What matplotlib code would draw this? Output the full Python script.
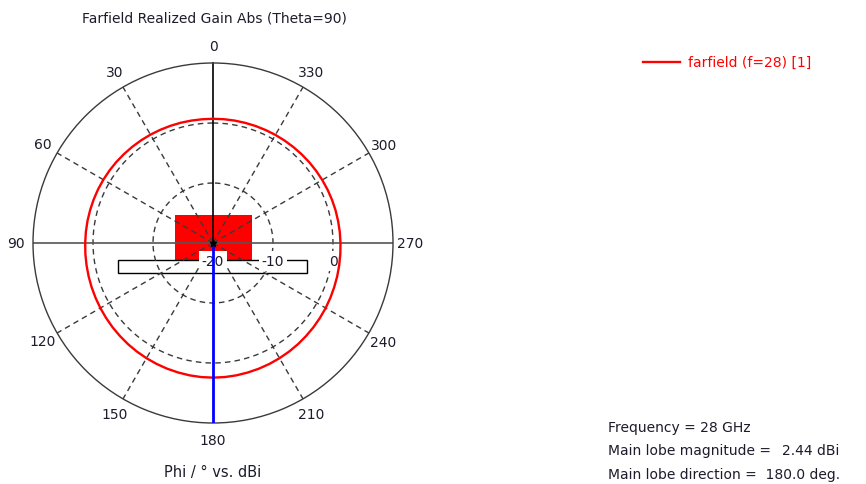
import numpy as np
import matplotlib
matplotlib.use("Agg")
import matplotlib.pyplot as plt
from matplotlib.patches import Rectangle

# Realized gain (dBi) in the Theta=90 cut, sampled every 5 degrees of Phi
phi_deg = list(range(0, 361, 5))
gain_dbi = [0.70, 0.70, 0.72, 0.75, 0.78, 0.81, 0.85, 0.89, 0.93, 0.97, 1.02, 1.06, 1.10,
            1.14, 1.17, 1.20, 1.24, 1.27, 1.30, 1.35, 1.40, 1.46, 1.53, 1.60, 1.68, 1.76,
            1.85, 1.93, 2.02, 2.10, 2.17, 2.24, 2.30, 2.35, 2.40, 2.43, 2.44, 2.43, 2.40,
            2.35, 2.30, 2.24, 2.17, 2.10, 2.02, 1.93, 1.85, 1.76, 1.68, 1.59, 1.50, 1.43,
            1.36, 1.30, 1.25, 1.21, 1.17, 1.14, 1.10, 1.06, 1.02, 0.98, 0.94, 0.90, 0.86,
            0.83, 0.80, 0.77, 0.75, 0.73, 0.72, 0.71, 0.70]

angle_ticks = [0, 30, 60, 90, 120, 150, 180, 210, 240, 270, 300, 330]
ring_levels = [-20, -10, 0]
r_min, r_max = -20, 10
main_lobe_dir = 180.0
main_lobe_mag = 2.44
freq_ghz = 28

plt.rcParams['font.family'] = ['DejaVu Sans']
txt_col = '#1c1c2c'
grid_col = '#3a3a3a'

fig = plt.figure(figsize=(8.66, 4.85), dpi=100)
ax = fig.add_axes([33 / 866, 61 / 485, 360 / 866, 360 / 485], projection='polar')
ax.set_theta_zero_location('N')
ax.set_theta_direction(1)
ax.set_ylim(r_min, r_max)
ax.grid(False)
ax.set_xticks([])
ax.set_yticks([])
ax.spines['polar'].set_color(grid_col)
ax.spines['polar'].set_linewidth(1.0)

# scale-bar blocks around the origin
ax.add_patch(Rectangle((0.394, 0.45), 0.214, 0.128, transform=ax.transAxes,
                       facecolor='#ff0000', edgecolor='none', zorder=1, clip_on=False))
ax.add_patch(Rectangle((0.236, 0.417), 0.525, 0.036, transform=ax.transAxes,
                       facecolor='white', edgecolor='black', linewidth=1.0, zorder=1.2,
                       clip_on=False))

full = np.linspace(0, 2 * np.pi, 361)
dash = (0, (4, 3))
for lev in [-10, 0]:
    ax.plot(full, np.full_like(full, lev), color=grid_col, lw=1.0, linestyle=dash, zorder=2)

for a in angle_ticks:
    if a % 90 == 0:
        continue
    th = np.deg2rad(a)
    ax.plot([th, th], [r_min, r_max], color=grid_col, lw=1.0, linestyle=dash, zorder=2)

# axes cross: horizontal 90-270 line and the 0 direction
ax.plot([np.pi / 2, np.pi / 2], [r_min, r_max], color='#555555', lw=1.2, zorder=2.5)
ax.plot([3 * np.pi / 2, 3 * np.pi / 2], [r_min, r_max], color='#555555', lw=1.2, zorder=2.5)
ax.plot([0, 0], [r_min, r_max], color='black', lw=1.2, zorder=2.5)

# ring level labels along the 270 direction
for lev in ring_levels:
    ax.annotate(f"{lev}", xy=(np.deg2rad(270), lev), xytext=(0, -13),
                textcoords='offset points', ha='center', va='center', fontsize=10,
                color=txt_col, zorder=3, annotation_clip=False,
                bbox=dict(boxstyle='square,pad=0.2', facecolor='white', edgecolor='none'))

# pattern
ax.plot(np.deg2rad(phi_deg), gain_dbi, color='#ff0000', lw=1.7, zorder=4)

# main lobe direction
th_ml = np.deg2rad(main_lobe_dir)
ax.plot([th_ml, th_ml], [r_min, r_max], color='#0000ff', lw=2.0, zorder=5)
ax.plot([0], [r_min], marker='*', color='black', markersize=5, zorder=6)

# angle labels
for a in angle_ticks:
    r_lab = r_min + 197 / 6.0
    ax.text(np.deg2rad(a), r_lab, str(a), ha='center', va='center', fontsize=10,
            color=txt_col, clip_on=False)

fig.text(214 / 866, 1 - 18 / 485, "Farfield Realized Gain Abs (Theta=90)", ha='center',
         va='center', fontsize=10, color=txt_col)
fig.text(213 / 866, 1 - 473 / 485, "Phi / \u00b0 vs. dBi", ha='center', va='center',
         fontsize=10.5, color=txt_col)

# legend
fig.lines.append(plt.Line2D([643 / 866, 680 / 866], [1 - 63 / 485, 1 - 63 / 485],
                            color='#ff0000', lw=1.7, transform=fig.transFigure))
fig.text(688 / 866, 1 - 63 / 485, f"farfield (f={freq_ghz}) [1]", ha='left', va='center',
         fontsize=10, color='#ff0000')

# summary
fig.text(608 / 866, 1 - 428 / 485, f"Frequency = {freq_ghz} GHz", ha='left', va='center',
         fontsize=10, color=txt_col)
fig.text(608 / 866, 1 - 451 / 485, "Main lobe magnitude =", ha='left', va='center',
         fontsize=10, color=txt_col)
fig.text(839 / 866, 1 - 451 / 485, f"{main_lobe_mag:.2f} dBi", ha='right', va='center',
         fontsize=10, color=txt_col)
fig.text(608 / 866, 1 - 475 / 485, f"Main lobe direction =  {main_lobe_dir:.1f} deg.",
         ha='left', va='center', fontsize=10, color=txt_col)

fig.savefig("out.png", dpi=100)
